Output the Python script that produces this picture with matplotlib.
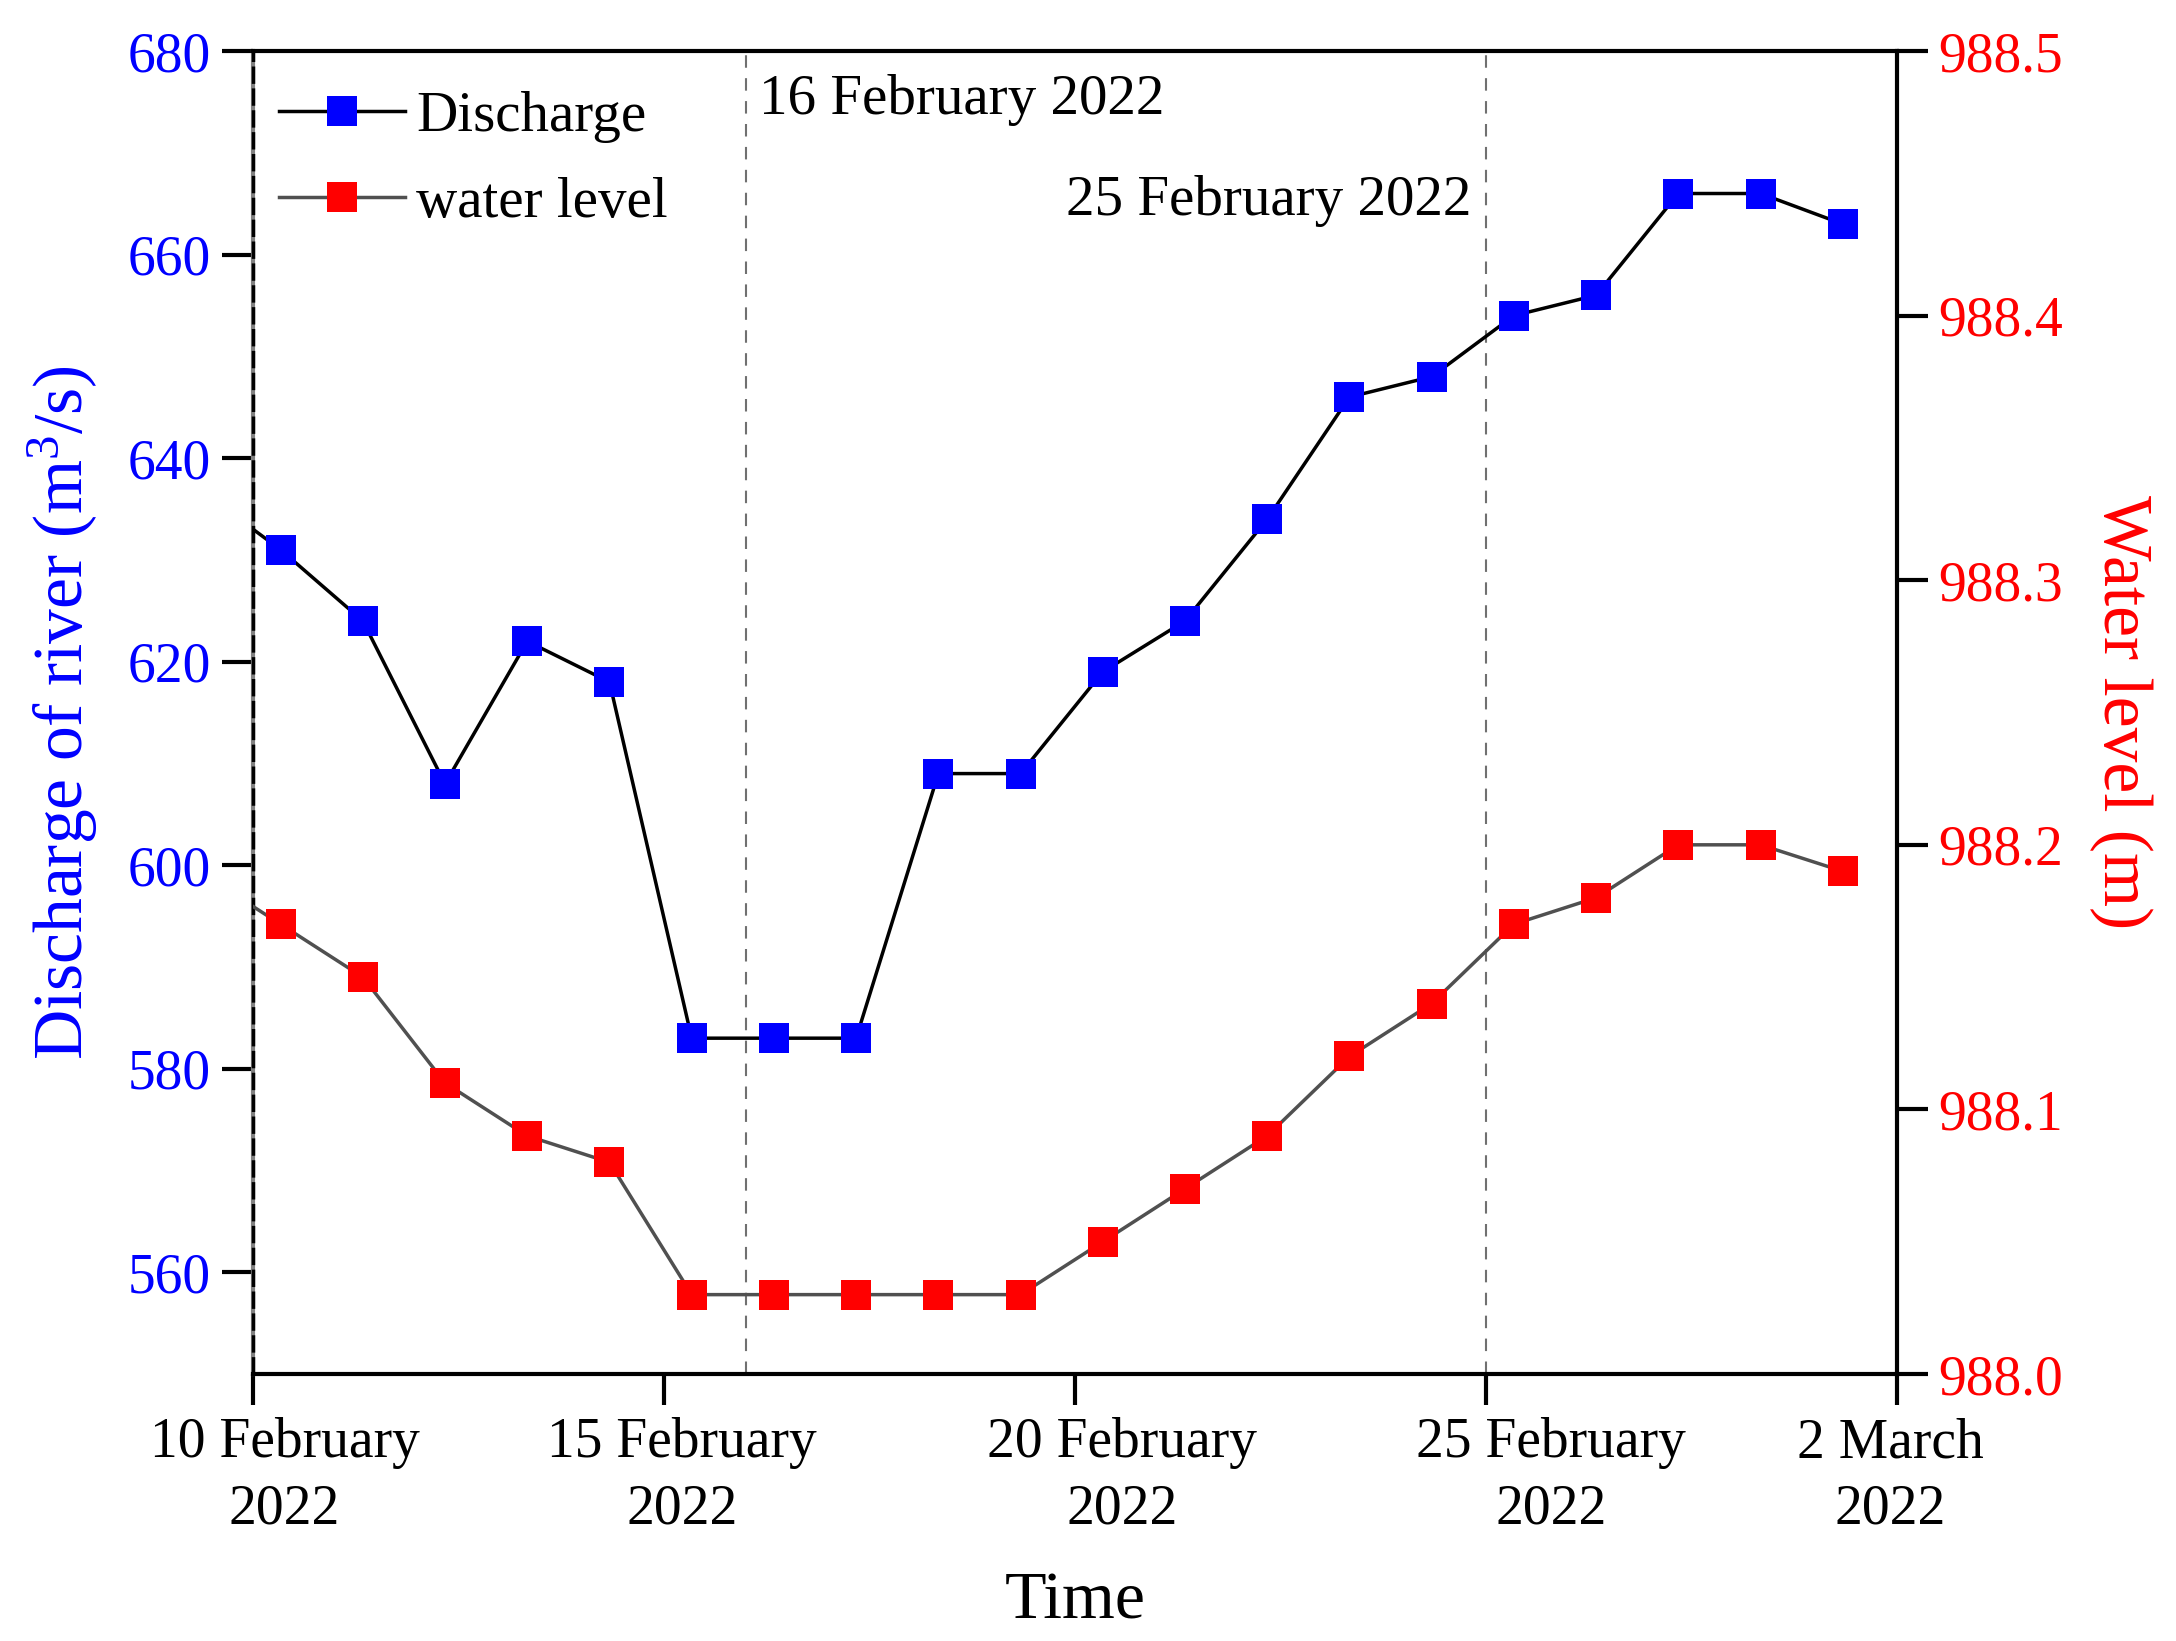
import matplotlib
matplotlib.use("Agg")
import matplotlib.pyplot as plt

plt.rcParams['font.family'] = ['Liberation Serif', 'DejaVu Serif']
plt.rcParams['mathtext.default'] = 'regular'

# ---- data (x = days after 10 February 2022 00:00) ----
days = [-0.66, 0.34, 1.34, 2.34, 3.34, 4.34, 5.34, 6.34, 7.34, 8.34, 9.34,
        10.34, 11.34, 12.34, 13.34, 14.34, 15.34, 16.34, 17.34, 18.34, 19.34]
discharge = [637, 631, 624, 608, 622, 618, 583, 583, 583, 609, 609,
             619, 624, 634, 646, 648, 654, 656, 666, 666, 663]
water_level = [988.19, 988.17, 988.15, 988.11, 988.09, 988.08, 988.03, 988.03,
               988.03, 988.03, 988.03, 988.05, 988.07, 988.09, 988.12, 988.14,
               988.17, 988.18, 988.20, 988.20, 988.19]
tick_days = [0, 5, 10, 15, 20]
tick_labels = ["10 February\n2022", "15 February\n2022", "20 February\n2022",
               "25 February\n2022", "2 March\n2022"]
tick_shift_pt = [23, 13, 34, 47, -5]
event_days = [6, 15]
event_labels = ["16 February 2022", "25 February 2022"]
left_ticks = [560, 580, 600, 620, 640, 660, 680]
right_ticks = [988.0, 988.1, 988.2, 988.3, 988.4, 988.5]

BLUE = '#0000FF'
RED = '#FF0000'
FS = 40

fig = plt.figure(figsize=(21.76, 16.41), dpi=100)
ax = fig.add_axes([0.1161, 0.1627, 0.7557, 0.8062])
ax2 = ax.twinx()

# vertical reference lines
ax.axvline(0, color='black', lw=2.5, linestyle=(0, (5, 1.3)), zorder=3, clip_on=False)
for d in event_days:
    ax.axvline(d, color='#707070', lw=1.5, linestyle=(0, (6, 5)), zorder=1)

l1, = ax.plot(days, discharge, color='black', lw=2.5, marker='s', ms=21,
              mfc=BLUE, mec=BLUE, mew=0, zorder=4, label='Discharge')
l2, = ax2.plot(days, water_level, color='#505050', lw=2.5, marker='s', ms=21,
               mfc=RED, mec=RED, mew=0, zorder=4, label='water level')

ax.set_xlim(0, 20)
ax.set_ylim(550, 680)
ax2.set_ylim(988.0, 988.5)

ax.set_xticks(tick_days)
ax.set_xticklabels([''] * len(tick_days))
for d, lab, sh in zip(tick_days, tick_labels, tick_shift_pt):
    ax.annotate(lab, xy=(d, 0), xycoords=('data', 'axes fraction'),
                xytext=(sh, -31), textcoords='offset points',
                ha='center', va='top', multialignment='center',
                fontsize=FS, linespacing=1.36, annotation_clip=False)

ax.set_yticks(left_ticks)
ax.set_yticklabels([str(v) for v in left_ticks], fontsize=FS, color=BLUE)
ax2.set_yticks(right_ticks)
ax2.set_yticklabels([f"{v:.1f}" for v in right_ticks], fontsize=FS, color=RED)

ax.tick_params(axis='both', direction='out', length=22, width=3, pad=8)
ax2.tick_params(axis='y', direction='out', length=22, width=3, pad=8)

for s in ['top', 'bottom']:
    ax.spines[s].set_linewidth(3)
ax.spines['left'].set_linewidth(3)
ax.spines['left'].set_color('#808080')
ax.spines['right'].set_visible(False)
for s in ['left', 'top', 'bottom']:
    ax2.spines[s].set_visible(False)
ax2.spines['right'].set_linewidth(3)

ax.set_xlabel('Time', fontsize=49)
ax.xaxis.set_label_coords(0.5, -0.149)
ax.set_ylabel('Discharge of river (m$^3$/s)', fontsize=50, color=BLUE, labelpad=20)
ax2.set_ylabel('Water level (m)', fontsize=50, color=RED, rotation=-90, labelpad=64)

ax.text(6.16, 675.2, event_labels[0], fontsize=41, ha='left', va='center')
ax.text(14.82, 665.3, event_labels[1], fontsize=41, ha='right', va='center')

ax2.legend(handles=[l1, l2], loc='upper left', bbox_to_anchor=(-0.008, 1.0),
           frameon=False, fontsize=41, handlelength=2.2, handletextpad=0.2,
           labelspacing=0.6, borderaxespad=0.2, borderpad=0.5)

fig.savefig('out.png', dpi=100)
